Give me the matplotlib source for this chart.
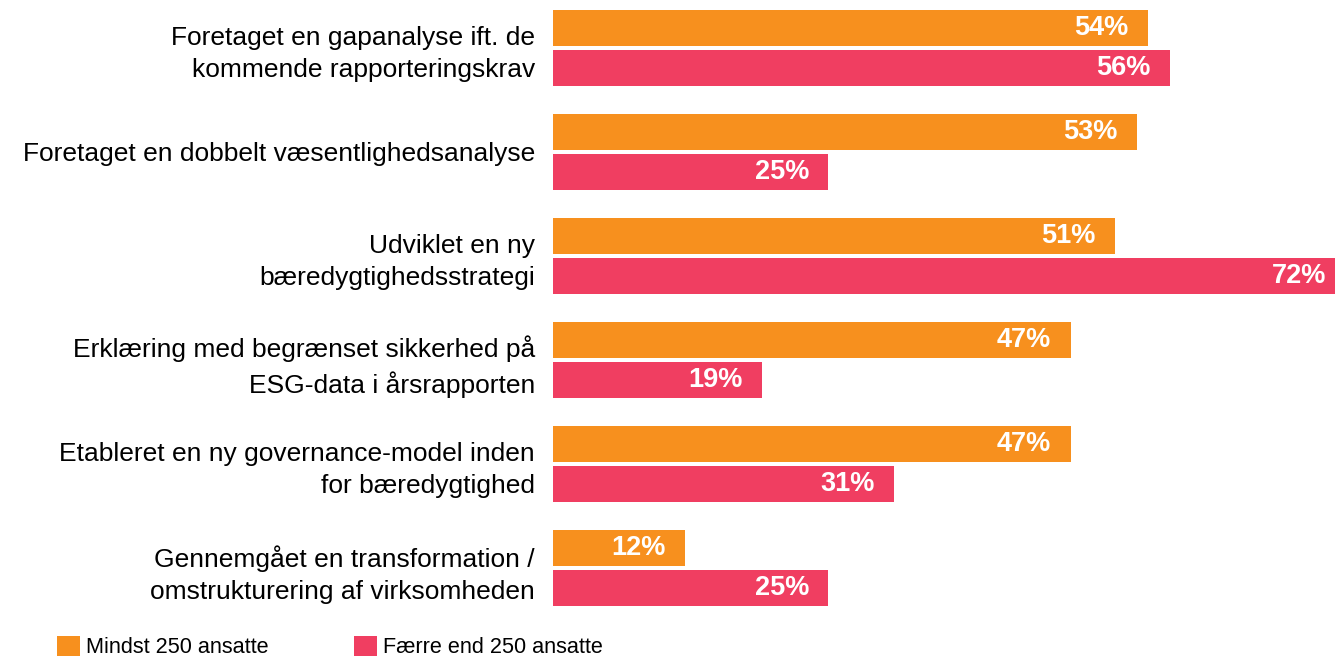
import numpy as np
import matplotlib.pyplot as plt

# Data
categories = [
    "Foretaget en gapanalyse ift. de\nkommende rapporteringskrav",
    "Foretaget en dobbelt væsentlighedsanalyse",
    "Udviklet en ny\nbæredygtighedsstrategi",
    "Erklæring med begrænset sikkerhed på\nESG-data i årsrapporten",
    "Etableret en ny governance-model inden\nfor bæredygtighed",
    "Gennemgået en transformation /\nomstrukturering af virksomheden",
]
large = [54, 53, 51, 47, 47, 12]
small = [56, 25, 72, 19, 31, 25]
series_names = ["Mindst 250 ansatte", "Færre end 250 ansatte"]
colors = ["#F7901E", "#F03E61"]

plt.rcParams['font.family'] = ['Liberation Sans', 'DejaVu Sans']

fig = plt.figure(figsize=(13.35, 6.61), dpi=100)
ax = fig.add_axes([553 / 1335, 1 - 620 / 661, 1 - 553 / 1335, 620 / 661])

y = np.arange(len(categories))
h = 0.345
off = 0.19

bars1 = ax.barh(y - off, large, height=h, color=colors[0], label=series_names[0])
bars2 = ax.barh(y + off, small, height=h, color=colors[1], label=series_names[1])

for bars, vals in [(bars1, large), (bars2, small)]:
    for b, v in zip(bars, vals):
        ax.annotate(f"{v}%", xy=(b.get_width(), b.get_y() + b.get_height() / 2),
                    xytext=(-14, 0), textcoords='offset points',
                    ha='right', va='center', color='white',
                    fontsize=19.5, fontweight='bold', annotation_clip=False)

ax.set_xlim(0, 71)
ax.set_ylim(5.5, -0.4615)
ax.set_yticks(y)
ax.set_yticklabels(categories, fontsize=19, linespacing=1.42)
ax.tick_params(axis='y', length=0, pad=13)
ax.set_xticks([])
for s in ax.spines.values():
    s.set_visible(False)

fig.legend(handles=[bars1, bars2], labels=series_names, loc='lower left',
           bbox_to_anchor=(57 / 1335, 0.004), ncol=2, frameon=False,
           fontsize=15.6, handlelength=1.05, handleheight=1.05,
           handletextpad=0.28, columnspacing=3.95, borderpad=0, borderaxespad=0)

fig.savefig("out.png", dpi=100)
